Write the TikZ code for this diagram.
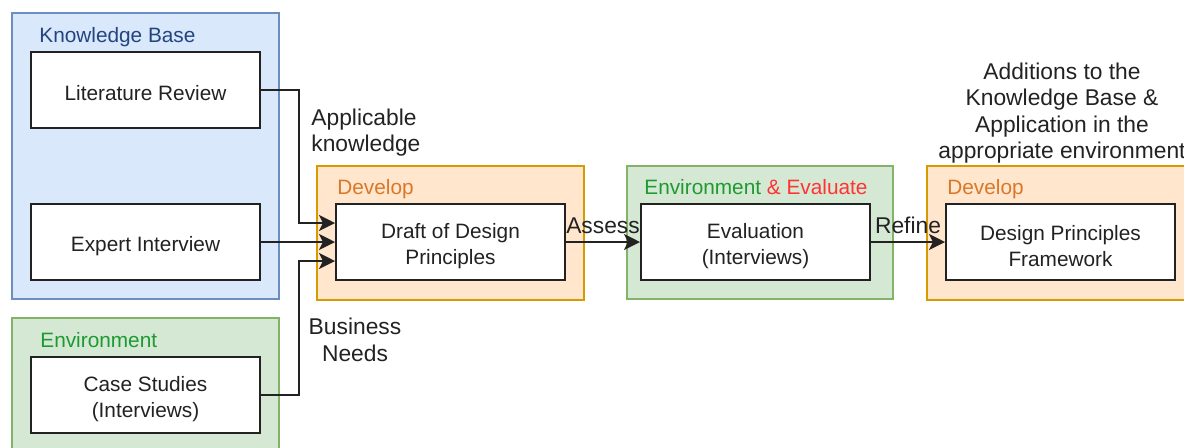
\documentclass[tikz,border=0pt]{standalone}
\usepackage{fontspec}
\setmainfont{Liberation Sans}
\usetikzlibrary{arrows.meta,positioning}

\definecolor{kbfill}{HTML}{DAE8FC}
\definecolor{kbline}{HTML}{6C8EBF}
\definecolor{kbtext}{HTML}{23457F}
\definecolor{envfill}{HTML}{D5E8D4}
\definecolor{envline}{HTML}{82B366}
\definecolor{envtext}{HTML}{1E9A32}
\definecolor{devfill}{HTML}{FFE6CC}
\definecolor{devline}{HTML}{D79B00}
\definecolor{devtext}{HTML}{D9782A}
\definecolor{evaltext}{HTML}{FF3333}
\definecolor{ink}{HTML}{222222}

\newcommand{\boxfont}{\fontsize{10.4}{13}\selectfont}
\newcommand{\labfont}{\fontsize{11.4}{13.25}\selectfont}
\newcommand{\lift}{\rule{0pt}{11.5pt}}% pushes box text down a little

\tikzset{
  box/.style={draw=ink, line width=1pt, fill=white, minimum width=114.5pt, minimum height=38pt, align=center, font=\boxfont, text=ink, inner sep=0pt},
  kbgroup/.style={draw=kbline, fill=kbfill, line width=0.75pt},
  envgroup/.style={draw=envline, fill=envfill, line width=0.75pt},
  devgroup/.style={draw=devline, fill=devfill, line width=0.75pt},
  grouplabel/.style={anchor=base west, inner sep=0pt, font=\boxfont},
  freetext/.style={inner sep=0pt, font=\labfont, text=ink},
  edgelabel/.style={anchor=base, yshift=4.5pt, inner sep=0pt, font=\labfont, text=ink},
  flow/.style={draw=ink, line width=1pt, -{Stealth[length=8pt,width=8pt,inset=2pt]}}
}

\begin{document}
\begin{tikzpicture}[x=0.5pt,y=-0.5pt]
\useasboundingbox (0,0) rectangle (1184,447);

%knowledge base
\draw[kbgroup] (12,13) rectangle (279,299);
\node[grouplabel, text=kbtext] (kblabel) at (39,42) {Knowledge Base};
\node[box] (lit) at (145.5,89.5) {\lift Literature Review};
\node[box] (expert) at (145.5,242) {\lift Expert Interview};

%environment
\draw[envgroup] (12,318) rectangle (279,460);
\node[grouplabel, text=envtext] (envlabel) at (40,347) {Environment};
\node[box] (cases) at (145.5,395) {\lift Case Studies\\(Interviews)};

%develop
\draw[devgroup] (317,166) rectangle (584,300);
\node[grouplabel, text=devtext] (devlabel) at (337,194) {Develop};
\node[box] (draft) at (450.5,242) {\lift Draft of Design\\Principles};

%environment and evaluate
\draw[envgroup] (627,166) rectangle (893,299);
\node[grouplabel] (evallabel) at (644,194) {\color{envtext}Environment \color{evaltext}\& Evaluate};
\node[box] (eval) at (755.5,242) {\lift Evaluation\\(Interviews)};

%develop framework
\draw[devgroup] (927,166) rectangle (1200,300);
\node[grouplabel, text=devtext] (fwlabel) at (947,194) {Develop};
\node[box] (frame) at (1060.5,242) {\lift Design Principles\\Framework};

%inputs
\draw[flow] (lit.east) -- ++(38,0) |- ([yshift=9.5pt]draft.west);
\draw[flow] (expert.east) -- (draft.west);
\draw[flow] (cases.east) -- ++(38,0) |- ([yshift=-9.5pt]draft.west);
\node[freetext, anchor=west, align=left] (know) at (311,132.5) {Applicable\\knowledge};
\node[freetext, align=center] (needs) at (355,340) {Business\\Needs};

%assess and refine
\draw[flow] (draft) -- node[edgelabel] (assess) {Assess} (eval);
\draw[flow] (eval) -- node[edgelabel] (refine) {Refine} (frame);

%additions
\node[freetext, align=center] (adds) at (1062,113.25) {Additions to the\\Knowledge Base \&\\Application in the\\appropriate environment};

\end{tikzpicture}
\end{document}
